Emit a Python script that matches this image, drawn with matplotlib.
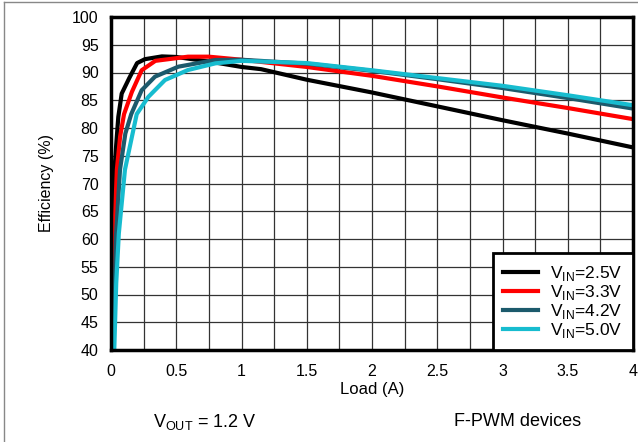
import matplotlib
matplotlib.use("Agg")
import matplotlib.pyplot as plt
from matplotlib.lines import Line2D
import numpy as np

plt.rcParams['font.family'] = ['Liberation Sans', 'DejaVu Sans']
plt.rcParams['mathtext.fontset'] = 'custom'
plt.rcParams['mathtext.rm'] = 'Liberation Sans'

# Data (load in A, efficiency in %)
x_25 = [0.01, 0.015, 0.02, 0.04, 0.056, 0.082, 0.14, 0.2, 0.26, 0.39, 0.5, 0.76, 1.0, 1.15, 1.5, 2.0, 2.5, 3.0, 3.5, 4.0]
y_25 = [40, 60, 70, 77, 82, 86.2, 89.0, 91.7, 92.4, 92.9, 92.8, 91.95, 91.0, 90.6, 88.7, 86.4, 83.9, 81.4, 79.0, 76.5]

x_33 = [0.012, 0.025, 0.045, 0.07, 0.1, 0.16, 0.235, 0.34, 0.59, 0.75, 1.0, 1.5, 2.0, 2.5, 3.0, 3.5, 4.0]
y_33 = [40, 60.5, 72.5, 78.5, 82.5, 86.5, 90.4, 92.1, 92.85, 92.85, 92.3, 91.0, 89.4, 87.5, 85.5, 83.6, 81.6]

x_42 = [0.018, 0.038, 0.069, 0.11, 0.155, 0.235, 0.337, 0.516, 0.8, 1.0, 1.5, 2.0, 2.5, 3.0, 3.5, 4.0]
y_42 = [40, 60.5, 72.5, 79, 82.5, 86.8, 89.25, 91.05, 92.25, 92.3, 91.6, 90.3, 88.8, 87.2, 85.4, 83.5]

x_50 = [0.025, 0.04, 0.06, 0.107, 0.197, 0.286, 0.414, 0.59, 0.8, 1.0, 1.5, 2.0, 2.5, 3.0, 3.5, 4.0]
y_50 = [40, 52, 61, 72.5, 82.5, 85.6, 88.65, 90.45, 91.65, 92.1, 91.7, 90.4, 89.0, 87.6, 85.9, 84.1]

labels = [r'V$_\mathregular{IN}$=2.5V', r'V$_\mathregular{IN}$=3.3V',
          r'V$_\mathregular{IN}$=4.2V', r'V$_\mathregular{IN}$=5.0V']
colors = ['#000000', '#ff0000', '#1c5a6c', '#17bccf']

x_ticks = [0, 0.5, 1, 1.5, 2, 2.5, 3, 3.5, 4]
x_ticklabels = ['0', '0.5', '1', '1.5', '2', '2.5', '3', '3.5', '4']
y_ticks = list(range(40, 101, 5))

fig = plt.figure(figsize=(6.38, 4.42), dpi=100)
ax = fig.add_axes([111/638, 1-350/442, (633-111)/638, (350-17)/442])

for xs, ys, c, lab in zip([x_25, x_33, x_42, x_50], [y_25, y_33, y_42, y_50], colors, labels):
    ax.plot(xs, ys, color=c, lw=3.0, label=lab, solid_joinstyle='round')

ax.set_xlim(0, 4)
ax.set_ylim(40, 100)
ax.set_xticks(x_ticks)
ax.set_xticklabels(x_ticklabels)
ax.set_xticks(np.arange(0, 4.01, 0.25), minor=True)
ax.set_yticks(y_ticks)
ax.tick_params(axis='both', which='both', length=0, labelsize=11.5)
ax.tick_params(axis='x', pad=10)
ax.tick_params(axis='y', pad=9)
ax.grid(True, which='both', color='#333333', lw=0.9)
ax.set_axisbelow(True)
for sp in ax.spines.values():
    sp.set_linewidth(2.5)
    sp.set_color('black')

ax.set_xlabel('Load (A)', fontsize=12, labelpad=2)
ax.set_ylabel('Efficiency (%)', fontsize=11.5, labelpad=13)

leg = ax.legend(loc='lower right', borderaxespad=0, fontsize=12.5, frameon=True,
                fancybox=False, handlelength=2.0, handletextpad=0.7,
                labelspacing=0.0, borderpad=0.6)
leg.get_frame().set_edgecolor('black')
leg.get_frame().set_linewidth(2.0)
leg.get_frame().set_alpha(1)

fig.text(205/638, 1-422/442, r'V$_\mathregular{OUT}$ = 1.2 V', fontsize=13, ha='center', va='center')
fig.text(518/638, 1-422/442, 'F-PWM devices', fontsize=13, ha='center', va='center')

fig.add_artist(Line2D([3.5/638, 3.5/638], [0, 1-1.5/442], transform=fig.transFigure, color='#888888', lw=1))
fig.add_artist(Line2D([3.5/638, 1], [1-1.5/442, 1-1.5/442], transform=fig.transFigure, color='#888888', lw=1))

fig.savefig('out.png', dpi=100)
